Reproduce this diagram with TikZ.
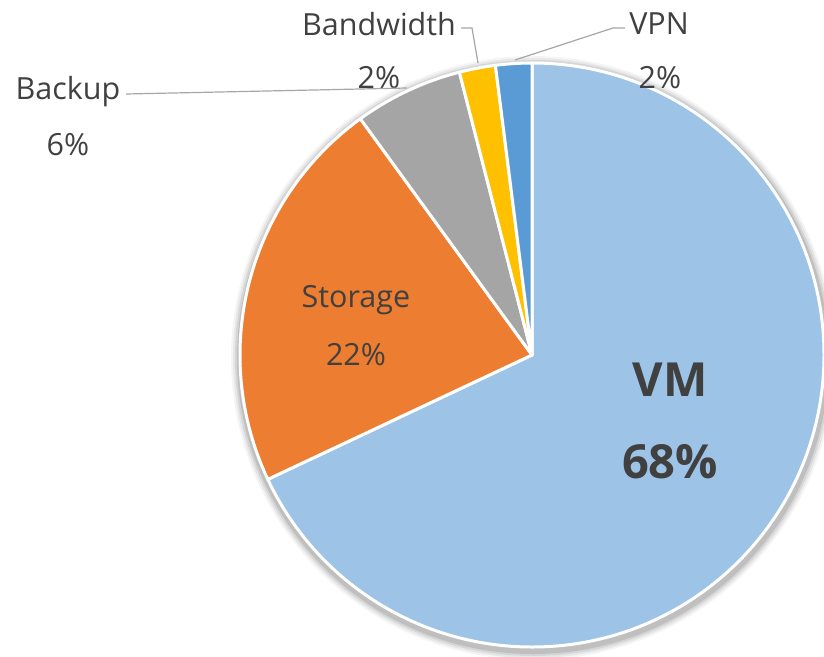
\documentclass[tikz,border=0pt]{standalone}
\usepackage{fontspec}
\setmainfont{Open Sans}
\definecolor{vmc}{HTML}{9DC3E6}
\definecolor{stc}{HTML}{ED7D31}
\definecolor{bkc}{HTML}{A5A5A5}
\definecolor{bwc}{HTML}{FFC000}
\definecolor{vpc}{HTML}{5B9BD5}
\definecolor{txt}{HTML}{404040}
\definecolor{lead}{HTML}{A6A6A6}
\begin{document}
\begin{tikzpicture}[x=1pt,y=1pt,
  slice/.style={draw=white,line width=3pt,line join=round},
  lbl/.style={text=txt,font=\fontsize{30.5}{36}\selectfont,inner sep=0pt},
  biglbl/.style={text=txt,font=\fontsize{47}{52}\selectfont\bfseries,inner sep=0pt},
  leader/.style={draw=lead,line width=1.2pt}]
\useasboundingbox (0,0) rectangle (824,-656);
\coordinate (c) at (532,-355);
% soft shadow
\foreach \k/\o in {10/0.04,8/0.06,6/0.08,4/0.10}{
  \fill[black,opacity=\o] (533,-358) circle (292+\k);
}
% slices
\path[slice,fill=vmc] (c) -- ++(90:292) arc (90:-154.8:292) -- cycle;
\path[slice,fill=stc] (c) -- ++(205.2:292) arc (205.2:126:292) -- cycle;
\path[slice,fill=bkc] (c) -- ++(126:292) arc (126:104.4:292) -- cycle;
\path[slice,fill=bwc] (c) -- ++(104.4:292) arc (104.4:97.2:292) -- cycle;
\path[slice,fill=vpc] (c) -- ++(97.2:292) arc (97.2:90:292) -- cycle;
% labels
\node[lbl] (lBk) at (68,-92) {Backup};
\node[lbl] (vBk) at (68,-145) {6\%};
\node[lbl] (lBw) at (379,-24) {Bandwidth};
\node[lbl] (vBw) at (379,-78) {2\%};
\node[lbl] (lVp) at (659,-24) {VPN};
\node[lbl] (vVp) at (660,-78) {2\%};
\node[lbl] (lSt) at (356,-300) {Storage};
\node[lbl] (vSt) at (356,-355) {22\%};
\node[biglbl] (lVm) at (670,-380) {VM};
\node[biglbl] (vVm) at (670,-462) {68\%};
% leader lines
\coordinate (aBk) at (407,-88);
\coordinate (eBk) at (126,-94);
\coordinate (aBw) at (478,-63);
\coordinate (kBw) at (472,-28);
\coordinate (eBw) at (461,-28);
\coordinate (aVp) at (515,-60);
\coordinate (kVp) at (613,-28);
\coordinate (eVp) at (625,-28);
\draw[leader] (aBk) -- (eBk);
\draw[leader] (aBw) -- (kBw) -- (eBw);
\draw[leader] (aVp) -- (kVp) -- (eVp);
\end{tikzpicture}
\end{document}
